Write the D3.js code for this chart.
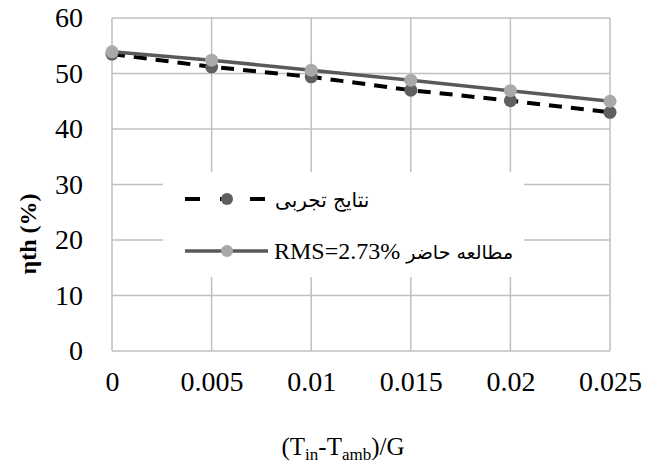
<!DOCTYPE html>
<meta charset="utf-8">
<style>
body { margin: 0; background: #fff; }
svg { font-family: "Liberation Serif", "Times New Roman", serif; }
.grid line { stroke: #bfbfbf; stroke-width: 1.5; }
</style>
<body>
<script src="https://d3js.org/d3.v7.min.js"></script>
<script>
// data
var xVals = [0, 0.005, 0.01, 0.015, 0.02, 0.025];
var experimental = [53.5, 51.2, 49.4, 47.0, 45.1, 43.0];
var model = [53.9, 52.4, 50.6, 48.8, 46.9, 45.0];
var yTicks = [0, 10, 20, 30, 40, 50, 60];
var legendLabels = ["نتایج تجربی", "RMS=2.73% مطالعه حاضر"];

var width = 646, height = 470;
var mLeft = 112, mRight = 610, mTop = 18, mBottom = 351;
var serif = "'Liberation Serif', 'Times New Roman', serif";

var svg = d3.select("body").append("svg")
  .attr("width", width)
  .attr("height", height);

var x = d3.scaleLinear().domain([0, 0.025]).range([mLeft, mRight]);
var y = d3.scaleLinear().domain([0, 60]).range([mBottom, mTop]);

// grid
var grid = svg.append("g").attr("class", "grid");
grid.selectAll("line.h").data(yTicks).enter().append("line")
  .attr("x1", mLeft).attr("x2", mRight)
  .attr("y1", function(d) { return y(d); })
  .attr("y2", function(d) { return y(d); });
grid.selectAll("line.v").data(xVals).enter().append("line")
  .attr("y1", mTop).attr("y2", mBottom)
  .attr("x1", function(d) { return x(d); })
  .attr("x2", function(d) { return x(d); });

// axes labels
var yAxis = svg.append("g")
  .attr("transform", "translate(" + (mLeft - 29) + ",0)")
  .call(d3.axisLeft(y).tickValues(yTicks).tickSize(0).tickPadding(0));
yAxis.select(".domain").remove();

var xAxis = svg.append("g")
  .attr("transform", "translate(0," + (mBottom + 20) + ")")
  .call(d3.axisBottom(x).tickValues(xVals).tickSize(0).tickPadding(0)
    .tickFormat(function(d) { return String(+d.toFixed(3)); }));
xAxis.select(".domain").remove();

[yAxis, xAxis].forEach(function(a) {
  a.attr("font-family", serif).attr("font-size", 28);
  a.selectAll("text").attr("fill", "#000").style("font-family", serif);
});

// lines
var line = d3.line()
  .x(function(d, i) { return x(xVals[i]); })
  .y(function(d) { return y(d); });

svg.append("path")
  .attr("d", line(experimental))
  .attr("fill", "none")
  .attr("stroke", "#000")
  .attr("stroke-width", 4)
  .attr("stroke-dasharray", "13,9");

svg.append("path")
  .attr("d", line(model))
  .attr("fill", "none")
  .attr("stroke", "#595959")
  .attr("stroke-width", 3.5);

svg.selectAll("circle.exp").data(experimental).enter().append("circle")
  .attr("cx", function(d, i) { return x(xVals[i]); })
  .attr("cy", function(d) { return y(d); })
  .attr("r", 6.5)
  .attr("fill", "#5f5f5f");

svg.selectAll("circle.mod").data(model).enter().append("circle")
  .attr("cx", function(d, i) { return x(xVals[i]); })
  .attr("cy", function(d) { return y(d); })
  .attr("r", 6.5)
  .attr("fill", "#a9a9a9");

// legend
svg.append("rect")
  .attr("x", 163).attr("y", 172)
  .attr("width", 361).attr("height", 105)
  .attr("fill", "#fff");

var lg = svg.append("g");
lg.append("line")
  .attr("x1", 185).attr("x2", 265).attr("y1", 199).attr("y2", 199)
  .attr("stroke", "#000").attr("stroke-width", 4)
  .attr("stroke-dasharray", "15,20,10,20,15");
lg.append("circle").attr("cx", 227).attr("cy", 199).attr("r", 6).attr("fill", "#5f5f5f");
lg.append("line")
  .attr("x1", 185).attr("x2", 268).attr("y1", 251).attr("y2", 251)
  .attr("stroke", "#595959").attr("stroke-width", 3.5);
lg.append("circle").attr("cx", 227).attr("cy", 251).attr("r", 6).attr("fill", "#a9a9a9");

lg.append("text")
  .attr("x", 275).attr("y", 207)
  .style("font-size", "20px")
  .style("font-family", "'DejaVu Sans', serif")
  .text(legendLabels[0]);

// second label: latin part in serif, persian part smaller
var cut = legendLabels[1].indexOf(" ");
var t2 = lg.append("text")
  .attr("x", 274).attr("y", 259)
  .style("font-size", "24px")
  .style("font-family", serif);
t2.append("tspan").text(legendLabels[1].slice(0, cut + 1));
t2.append("tspan")
  .style("font-size", "19px")
  .style("font-family", "'DejaVu Sans', serif")
  .text(legendLabels[1].slice(cut + 1));

// axis titles
svg.append("text")
  .attr("transform", "translate(36,234) rotate(-90)")
  .attr("text-anchor", "middle")
  .style("font-size", "24px")
  .style("font-weight", "bold")
  .style("font-family", serif)
  .text("ηth (%)");

var xt = svg.append("text")
  .attr("x", 343).attr("y", 455)
  .attr("text-anchor", "middle")
  .style("font-size", "25px")
  .style("font-family", serif);
xt.append("tspan").text("(T");
xt.append("tspan").attr("dy", 5).style("font-size", "17px").text("in");
xt.append("tspan").attr("dy", -5).text("-T");
xt.append("tspan").attr("dy", 5).style("font-size", "17px").text("amb");
xt.append("tspan").attr("dy", -5).text(")/G");
</script>
